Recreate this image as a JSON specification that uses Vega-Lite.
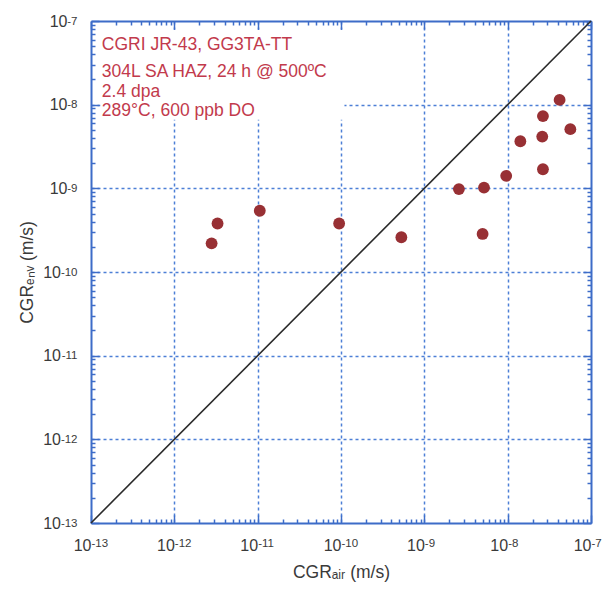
{
  "$schema": "https://vega.github.io/schema/vega-lite/v6.json",
  "width": 500,
  "height": 502,
  "autosize": {"type": "none"},
  "padding": {"left": 91, "top": 21, "right": 18, "bottom": 69},
  "background": "white",
  "config": {
    "view": {"stroke": null},
    "font": "Liberation Sans",
    "axis": {
      "domainColor": "#3d6cc8",
      "domainWidth": 2,
      "tickColor": "#3d6cc8",
      "tickWidth": 1.5,
      "gridColor": "#4d7fd6",
      "gridDash": [3, 3],
      "gridWidth": 1.5,
      "labelFont": "Liberation Sans",
      "labelFontSize": 16,
      "labelColor": "#3a3a3a",
      "labelFlush": false,
      "labelOverlap": false,
      "titleFont": "Liberation Sans",
      "titleFontSize": 17.5,
      "titleFontWeight": "normal",
      "titleColor": "#3a3a3a"
    }
  },
  "layer": [
    {
      "data": {"values": [{"x1": 1.3e-13, "x2": 1.1e-10, "y1": 6.6e-9, "y2": 7.8e-8}]},
      "mark": {"type": "rect", "fill": "white", "stroke": null},
      "encoding": {
        "x": {"field": "x1", "type": "quantitative", "scale": {"type": "log", "domain": [1e-13, 1e-7]},
          "axis": {
            "orient": "bottom",
            "values": [1e-13, 2e-13, 3e-13, 4e-13, 5e-13, 6e-13, 7e-13, 8e-13, 9e-13, 1e-12, 2e-12, 3e-12, 4e-12, 5e-12, 6e-12, 7e-12, 8e-12, 9e-12, 1e-11, 2e-11, 3e-11, 4e-11, 5e-11, 6e-11, 7e-11, 8e-11, 9e-11, 1e-10, 2e-10, 3e-10, 4e-10, 5e-10, 6e-10, 7e-10, 8e-10, 9e-10, 1e-9, 2e-9, 3e-9, 4e-9, 5e-9, 6e-9, 7e-9, 8e-9, 9e-9, 1e-8, 2e-8, 3e-8, 4e-8, 5e-8, 6e-8, 7e-8, 8e-8, 9e-8, 1e-7],
            "title": null, "labels": false,
            "tickSize": {"condition": {"test": "abs(log(datum.value)/LN10 - round(log(datum.value)/LN10)) < 0.01", "value": -8}, "value": -4},
            "gridOpacity": {"condition": {"test": "abs(log(datum.value)/LN10 - round(log(datum.value)/LN10)) < 0.01 && datum.value > 2e-13 && datum.value < 5e-8", "value": 1}, "value": 0}
          }},
        "x2": {"field": "x2"},
        "y": {"field": "y1", "type": "quantitative", "scale": {"type": "log", "domain": [1e-13, 1e-7]},
          "axis": {
            "orient": "left",
            "values": [1e-13, 2e-13, 3e-13, 4e-13, 5e-13, 6e-13, 7e-13, 8e-13, 9e-13, 1e-12, 2e-12, 3e-12, 4e-12, 5e-12, 6e-12, 7e-12, 8e-12, 9e-12, 1e-11, 2e-11, 3e-11, 4e-11, 5e-11, 6e-11, 7e-11, 8e-11, 9e-11, 1e-10, 2e-10, 3e-10, 4e-10, 5e-10, 6e-10, 7e-10, 8e-10, 9e-10, 1e-9, 2e-9, 3e-9, 4e-9, 5e-9, 6e-9, 7e-9, 8e-9, 9e-9, 1e-8, 2e-8, 3e-8, 4e-8, 5e-8, 6e-8, 7e-8, 8e-8, 9e-8, 1e-7],
            "title": null, "labels": false,
            "tickSize": {"condition": {"test": "abs(log(datum.value)/LN10 - round(log(datum.value)/LN10)) < 0.01", "value": -8}, "value": -4},
            "gridOpacity": {"condition": {"test": "abs(log(datum.value)/LN10 - round(log(datum.value)/LN10)) < 0.01 && datum.value > 2e-13 && datum.value < 5e-8", "value": 1}, "value": 0}
          }},
        "y2": {"field": "y2"}
      }
    },
    {
      "data": {"values": [{"x": 1e-13, "y": 1e-13}, {"x": 1e-7, "y": 1e-7}]},
      "mark": {"type": "line", "color": "#2a2a2a", "strokeWidth": 1.6},
      "encoding": {
        "x": {"field": "x", "type": "quantitative", "scale": {"type": "log", "domain": [1e-13, 1e-7]},
          "axis": {
            "orient": "top",
            "values": [1e-13, 2e-13, 3e-13, 4e-13, 5e-13, 6e-13, 7e-13, 8e-13, 9e-13, 1e-12, 2e-12, 3e-12, 4e-12, 5e-12, 6e-12, 7e-12, 8e-12, 9e-12, 1e-11, 2e-11, 3e-11, 4e-11, 5e-11, 6e-11, 7e-11, 8e-11, 9e-11, 1e-10, 2e-10, 3e-10, 4e-10, 5e-10, 6e-10, 7e-10, 8e-10, 9e-10, 1e-9, 2e-9, 3e-9, 4e-9, 5e-9, 6e-9, 7e-9, 8e-9, 9e-9, 1e-8, 2e-8, 3e-8, 4e-8, 5e-8, 6e-8, 7e-8, 8e-8, 9e-8, 1e-7],
            "title": null, "labels": false, "grid": false,
            "tickSize": {"condition": {"test": "abs(log(datum.value)/LN10 - round(log(datum.value)/LN10)) < 0.01", "value": -8}, "value": -4}
          }},
        "y": {"field": "y", "type": "quantitative", "scale": {"type": "log", "domain": [1e-13, 1e-7]},
          "axis": {
            "orient": "right",
            "values": [1e-13, 2e-13, 3e-13, 4e-13, 5e-13, 6e-13, 7e-13, 8e-13, 9e-13, 1e-12, 2e-12, 3e-12, 4e-12, 5e-12, 6e-12, 7e-12, 8e-12, 9e-12, 1e-11, 2e-11, 3e-11, 4e-11, 5e-11, 6e-11, 7e-11, 8e-11, 9e-11, 1e-10, 2e-10, 3e-10, 4e-10, 5e-10, 6e-10, 7e-10, 8e-10, 9e-10, 1e-9, 2e-9, 3e-9, 4e-9, 5e-9, 6e-9, 7e-9, 8e-9, 9e-9, 1e-8, 2e-8, 3e-8, 4e-8, 5e-8, 6e-8, 7e-8, 8e-8, 9e-8, 1e-7],
            "title": null, "labels": false, "grid": false,
            "tickSize": {"condition": {"test": "abs(log(datum.value)/LN10 - round(log(datum.value)/LN10)) < 0.01", "value": -8}, "value": -4}
          }}
      }
    },
    {
      "data": {"values": [
        {"air": 2.8e-12, "env": 2.2e-10},
        {"air": 3.3e-12, "env": 3.8e-10},
        {"air": 1.06e-11, "env": 5.4e-10},
        {"air": 9.5e-11, "env": 3.8e-10},
        {"air": 5.3e-10, "env": 2.6e-10},
        {"air": 2.6e-9, "env": 9.8e-10},
        {"air": 5.2e-9, "env": 1.02e-9},
        {"air": 5.0e-9, "env": 2.85e-10},
        {"air": 9.6e-9, "env": 1.41e-9},
        {"air": 1.42e-8, "env": 3.65e-9},
        {"air": 2.65e-8, "env": 1.69e-9},
        {"air": 2.6e-8, "env": 4.15e-9},
        {"air": 2.65e-8, "env": 7.3e-9},
        {"air": 4.2e-8, "env": 1.14e-8},
        {"air": 5.65e-8, "env": 5.1e-9}
      ]},
      "mark": {"type": "circle", "color": "#983034", "opacity": 1, "size": 140},
      "encoding": {
        "x": {"field": "air", "type": "quantitative", "scale": {"type": "log", "domain": [1e-13, 1e-7]},
          "axis": {
            "orient": "bottom",
            "values": [1e-13, 1e-12, 1e-11, 1e-10, 1e-9, 1e-8, 1e-7],
            "ticks": false, "domain": false, "grid": false,
            "labelExpr": "'10'",
            "labelAlign": "right",
            "labelDx": -5,
            "labelPadding": 14,
            "title": "CGRₐᵢᵣ (m/s)",
            "titlePadding": 10
          }},
        "y": {"field": "env", "type": "quantitative", "scale": {"type": "log", "domain": [1e-13, 1e-7]},
          "axis": {
            "orient": "left",
            "values": [1e-13, 1e-12, 1e-11, 1e-10, 1e-9, 1e-8, 1e-7],
            "ticks": false, "domain": false, "grid": false,
            "labelExpr": "'10'",
            "labelAlign": "right",
            "labelPadding": {"condition": {"test": "datum.value < 5e-10", "value": 30.5}, "value": 24},
            "title": "CGRₑₙᵥ (m/s)",
            "titlePadding": 6
          }}
      }
    },
    {
      "data": {"values": [
        {"label": "CGRI JR-43, GG3TA-TT", "x": 1.35e-13, "y": 5.17e-8},
        {"label": "304L SA HAZ, 24 h @ 500ºC", "x": 1.35e-13, "y": 2.49e-8},
        {"label": "2.4 dpa", "x": 1.35e-13, "y": 1.4e-8},
        {"label": "289°C, 600 ppb DO", "x": 1.35e-13, "y": 8.41e-9}
      ]},
      "mark": {"type": "text", "align": "left", "baseline": "middle", "color": "#c23a4c", "font": "Liberation Sans", "fontSize": 17.5},
      "encoding": {
        "x": {"field": "x", "type": "quantitative", "scale": {"type": "log", "domain": [1e-13, 1e-7]},
          "axis": {
            "orient": "bottom",
            "values": [1e-13, 1e-12, 1e-11, 1e-10, 1e-9, 1e-8, 1e-7],
            "ticks": false, "domain": false, "grid": false,
            "labelExpr": "'-' + (-round(log(datum.value)/LN10))",
            "labelAlign": "left",
            "labelDx": -5,
            "labelDy": -5,
            "labelPadding": 14,
            "labelFontSize": 11.5,
            "title": null
          }},
        "y": {"field": "y", "type": "quantitative", "scale": {"type": "log", "domain": [1e-13, 1e-7]},
          "axis": {
            "orient": "left",
            "values": [1e-13, 1e-12, 1e-11, 1e-10, 1e-9, 1e-8, 1e-7],
            "ticks": false, "domain": false, "grid": false,
            "labelExpr": "'-' + (-round(log(datum.value)/LN10))",
            "labelAlign": "right",
            "labelDy": -6.5,
            "labelPadding": 14,
            "labelFontSize": 11.5,
            "title": null
          }},
        "text": {"field": "label"}
      }
    }
  ],
  "resolve": {"axis": {"x": "independent", "y": "independent"}}
}
